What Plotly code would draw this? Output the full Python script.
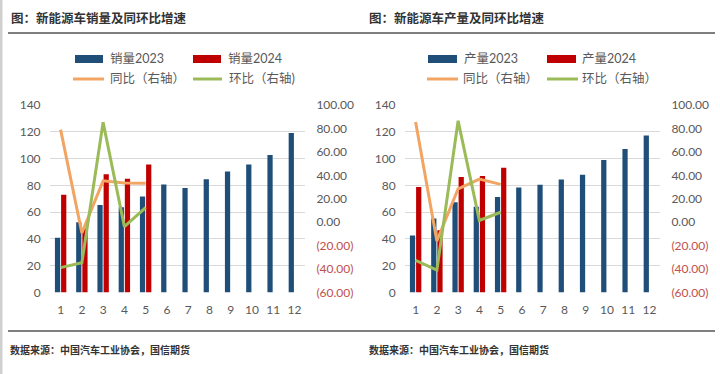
import plotly.graph_objects as go

W, H = 720, 374

months = list(range(1, 13))
month_labels = [str(m) for m in months]

# Sales (万辆)
sales_2023 = [40.8, 52.5, 65.3, 63.6, 71.7, 80.6, 78.0, 84.6, 90.4, 95.6, 102.6, 119.1]
sales_2024 = [72.9, 47.7, 88.3, 85.0, 95.5]
sales_yoy = [79.0, -9.2, 35.3, 33.5, 33.3]
sales_mom = [-38.8, -34.6, 85.2, -3.8, 12.4]

# Production (万辆)
prod_2023 = [42.5, 55.2, 67.4, 64.0, 71.3, 78.4, 80.5, 84.3, 87.9, 98.9, 107.1, 117.2]
prod_2024 = [78.7, 46.5, 86.3, 87.0, 93.2]
prod_yoy = [85.5, -16.0, 28.5, 36.8, 32.3]
prod_mom = [-32.6, -40.9, 86.5, 1.5, 8.5]

left_ticks = [0, 20, 40, 60, 80, 100, 120, 140]
right_ticks = [100, 80, 60, 40, 20, 0, -20, -40, -60]
right_labels = ["100.00", "80.00", "60.00", "40.00", "20.00", "0.00", "(20.00)", "(40.00)", "(60.00)"]

titles = ["图：新能源车销量及同环比增速", "图：新能源车产量及同环比增速"]
legend_names = [["销量2023", "销量2024", "同比（右轴）", "环比（右轴)"],
                ["产量2023", "产量2024", "同比（右轴）", "环比（右轴）"]]
source_text = "数据来源：中国汽车工业协会，国信期货"

BLUE = "#1F4E79"
RED = "#C00000"
ORANGE = "#F2A563"
GREEN = "#9BBB59"
NEG = "#C0504D"
GRAY_TXT = "#595959"

def px_x(p):
    return p / W

def px_y(p):
    return 1 - p / H

ydom = [px_y(292.5), px_y(105)]
xdoms = [[px_x(50), px_x(305)], [px_x(405), px_x(660)]]

fig = go.Figure()

panels = [(sales_2023, sales_2024, sales_yoy, sales_mom), (prod_2023, prod_2024, prod_yoy, prod_mom)]
for i, (b23, b24, yoy, mom) in enumerate(panels):
    xa = "x" if i == 0 else "x2"
    ya_l = "y" if i == 0 else "y3"
    ya_r = "y2" if i == 0 else "y4"
    fig.add_trace(go.Bar(x=months, y=b23, marker_color=BLUE, marker_line_width=0, xaxis=xa, yaxis=ya_l,
                         offsetgroup="a", name=legend_names[i][0], showlegend=False))
    fig.add_trace(go.Bar(x=months[:len(b24)], y=b24, marker_color=RED, marker_line_width=0, xaxis=xa, yaxis=ya_l,
                         offsetgroup="b", name=legend_names[i][1], showlegend=False))
    fig.add_trace(go.Scatter(x=months[:len(yoy)], y=yoy, mode="lines", line=dict(color=ORANGE, width=3),
                             xaxis=xa, yaxis=ya_r, name=legend_names[i][2], showlegend=False))
    fig.add_trace(go.Scatter(x=months[:len(mom)], y=mom, mode="lines", line=dict(color=GREEN, width=3),
                             xaxis=xa, yaxis=ya_r, name=legend_names[i][3], showlegend=False))

tick_font = dict(family="Lato, Noto Sans CJK SC", size=12, color=GRAY_TXT)
right_ticktext = [t if not t.startswith("(") else f'<span style="color:{NEG}">{t}</span>' for t in right_labels]

for i in range(2):
    sfx = "" if i == 0 else "2"
    xname = "xaxis" + sfx
    yl = "yaxis" if i == 0 else "yaxis3"
    yr = "yaxis2" if i == 0 else "yaxis4"
    yl_ref = "y" if i == 0 else "y3"
    fig.update_layout(**{
        xname: dict(domain=xdoms[i], range=[0.5, 12.5], tickvals=months, ticktext=month_labels,
                    showgrid=False, zeroline=False, showline=False, ticks="outside", ticklen=6,
                    tickcolor="rgba(0,0,0,0)", tickfont=tick_font, anchor=yl_ref, automargin=False),
        yl: dict(domain=ydom, range=[0, 140], tickvals=left_ticks, showgrid=True, gridcolor="#D9D9D9",
                 gridwidth=1, zeroline=False, showline=False, ticks="outside", ticklen=6,
                 tickcolor="rgba(0,0,0,0)", tickfont=tick_font, anchor="x" + sfx, automargin=False),
        yr: dict(domain=ydom, range=[-60, 100], tickvals=right_ticks, ticktext=right_ticktext,
                 overlaying=yl_ref, side="right", showgrid=False, zeroline=False, showline=False,
                 ticks="outside", ticklen=8, tickcolor="rgba(0,0,0,0)", tickfont=tick_font,
                 anchor="x" + sfx, automargin=False),
    })

fig.update_layout(barmode="group", bargap=0.42, bargroupgap=0.15)

shapes = []
annotations = []

# frame lines (drawn as thin filled rectangles)
shapes.append(dict(type="rect", xref="paper", yref="paper", x0=px_x(8), x1=px_x(715),
                   y0=px_y(34), y1=px_y(32), fillcolor="#7F7F7F", line=dict(width=0), layer="above"))
shapes.append(dict(type="rect", xref="paper", yref="paper", x0=px_x(8), x1=px_x(715),
                   y0=px_y(332), y1=px_y(330), fillcolor="#7F7F7F", line=dict(width=0), layer="above"))
shapes.append(dict(type="rect", xref="paper", yref="paper", x0=0, x1=px_x(2.5),
                   y0=0, y1=1, fillcolor="#D0D0D0", line=dict(width=0), layer="above"))

title_x = [9, 367]
source_x = [8, 367]
for i in range(2):
    annotations.append(dict(text=titles[i], xref="paper", yref="paper", x=px_x(title_x[i]), y=px_y(18),
                            xanchor="left", yanchor="middle", showarrow=False,
                            font=dict(family="Noto Sans CJK SC", size=12.5, color="#333333", weight="bold")))
    annotations.append(dict(text=source_text, xref="paper", yref="paper", x=px_x(source_x[i]), y=px_y(349),
                            xanchor="left", yanchor="middle", showarrow=False,
                            font=dict(family="Noto Sans CJK SC", size=10, color="#333333", weight="bold")))

# manual legends
leg = [
    [(75, 103, 108), (193, 221, 226), (73, 104, 108), (193, 222, 227)],
    [(428, 457, 462), (547, 576, 580), (427, 458, 461), (547, 578, 580)],
]
colors = [BLUE, RED, ORANGE, GREEN]
for i in range(2):
    for k in range(4):
        x0, x1, tx = leg[i][k]
        yc = 59 if k < 2 else 79
        if k < 2:
            shapes.append(dict(type="rect", xref="paper", yref="paper", x0=px_x(x0), x1=px_x(x1),
                               y0=px_y(yc + 4), y1=px_y(yc - 4), fillcolor=colors[k], line=dict(width=0)))
        else:
            shapes.append(dict(type="line", xref="paper", yref="paper", x0=px_x(x0), x1=px_x(x1),
                               y0=px_y(yc), y1=px_y(yc), line=dict(color=colors[k], width=3)))
        annotations.append(dict(text=legend_names[i][k], xref="paper", yref="paper", x=px_x(tx), y=px_y(yc),
                                xanchor="left", yanchor="middle", showarrow=False,
                                font=dict(family="Lato, Noto Sans CJK SC", size=12.5, color=GRAY_TXT)))

fig.update_layout(template="none", width=W, height=H, margin=dict(l=0, r=0, t=0, b=0, pad=0, autoexpand=False),
                  paper_bgcolor="white", plot_bgcolor="white", font=dict(family="Lato, Noto Sans CJK SC"),
                  shapes=shapes, annotations=annotations, showlegend=False)

fig.write_html("out.html", config={"displayModeBar": False},
               post_script="document.body.style.margin='0';document.body.style.padding='0';")
